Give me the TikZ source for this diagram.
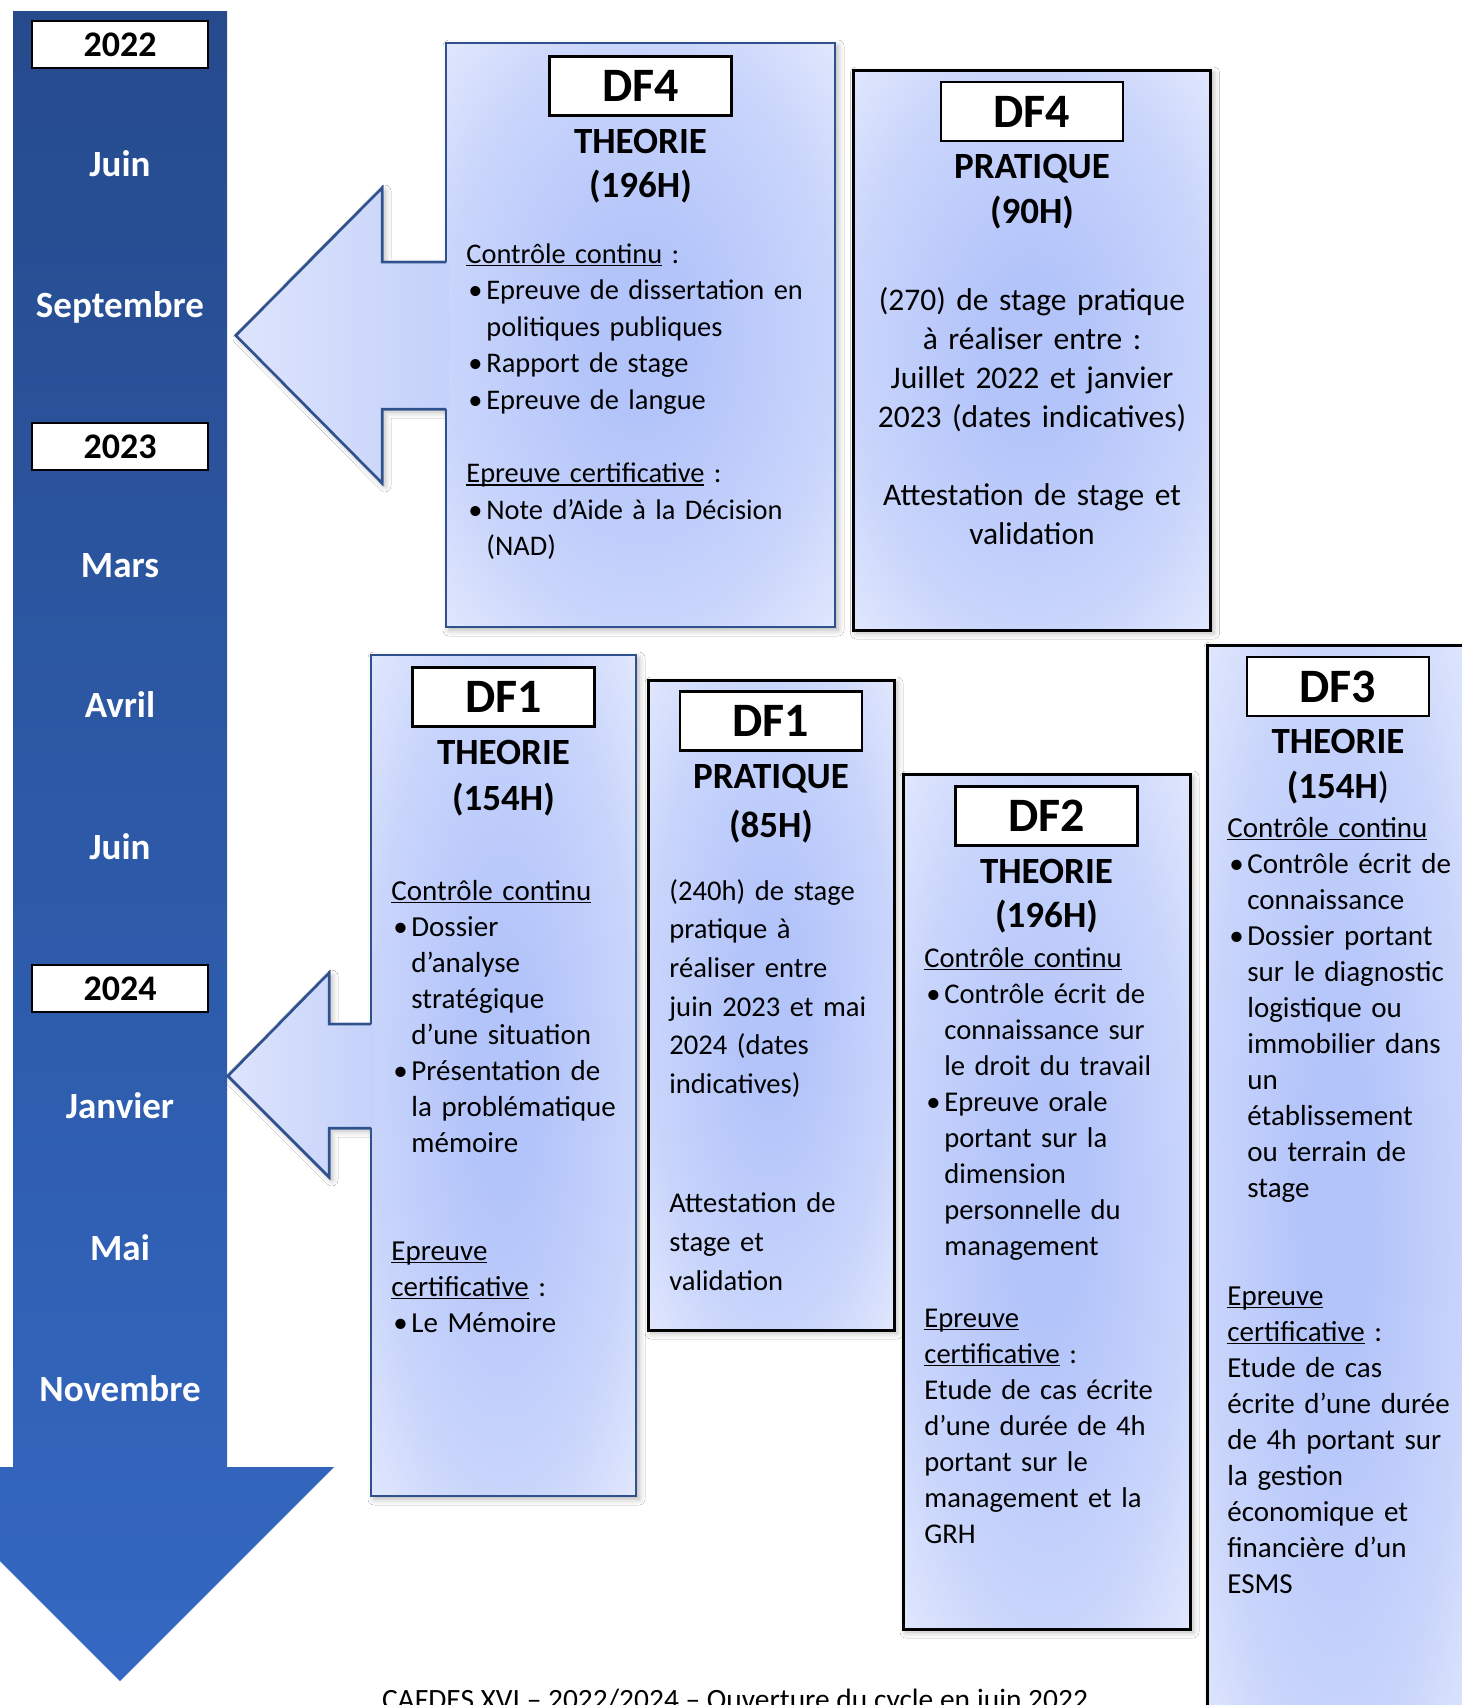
\documentclass[tikz,border=0pt]{standalone}
\usepackage{fontspec}
\setmainfont{Carlito}
\usetikzlibrary{shadows.blur}
\definecolor{bartop}{HTML}{264B8D}
\definecolor{barbot}{HTML}{3468C2}
\definecolor{bxin}{HTML}{B3C4FA}
\definecolor{bxmid}{HTML}{C9D5FB}
\definecolor{bxout}{HTML}{E2E8FD}
\definecolor{arrL}{HTML}{DDE4FC}
\definecolor{arrR}{HTML}{C4D1FA}
\definecolor{dkblue}{HTML}{2F528F}
\pgfdeclareradialshading{boxshade}{\pgfpoint{0bp}{0bp}}{color(0bp)=(bxin); color(7bp)=(bxin); color(25bp)=(bxmid); color(36bp)=(bxout); color(50bp)=(bxout)}
\newcommand{\ulx}[1]{\leavevmode\setbox0=\hbox{#1}\rlap{\rule[-0.12em]{\wd0}{0.06em}}\box0\relax}
\newcommand{\blt}{\makebox[10pt][l]{\hspace{1pt}\textbullet}}
\newcommand{\ind}{\hspace*{10pt}}
\begin{document}
\begin{tikzpicture}[x=0.5pt,y=-0.5pt,
  shad/.style={blur shadow={shadow xshift=1.5pt, shadow yshift=-1.5pt, shadow blur radius=3pt, shadow opacity=30}},
  dfbox/.style={rectangle, inner sep=0pt, shade, shading=boxshade},
  bluebox/.style={dfbox, draw=dkblue, line width=1.25pt},
  blackbox/.style={dfbox, draw=black, line width=1.5pt},
  lbl/.style={rectangle, draw=black, fill=white, line width=1.2pt, minimum width=91pt, minimum height=29.5pt, inner sep=0pt, font=\fontsize{24}{28}\selectfont\bfseries},
  hdr/.style={anchor=base, inner sep=0pt, font=\fontsize{18.5}{22}\selectfont\bfseries},
  month/.style={anchor=base, text=white, inner sep=0pt, font=\fontsize{18.5}{22}\selectfont\bfseries},
  yearbox/.style={rectangle, draw=black, fill=white, line width=1.2pt, minimum width=88pt, minimum height=23.5pt, inner sep=0pt, font=\fontsize{18}{21}\selectfont\bfseries},
  body/.style={anchor=base west, inner sep=0pt, align=left, font=\fontsize{14.5}{18}\selectfont},
  arrowfill/.style={left color=arrL, right color=arrR},
  arrowline/.style={draw=dkblue, line width=1.25pt, line join=miter}
]
\useasboundingbox (0,0) rectangle (1462,1705);
\clip (0,0) rectangle (1462,1705);
\fill[white] (0,0) rectangle (1462,1705);

% timeline bar
\shade[top color=bartop, bottom color=barbot] (13,11) -- (227,11) -- (227,1467) -- (334,1467) -- (120,1681) -- (-94,1467) -- (13,1467) -- cycle;

\node[yearbox] (y22) at (120,44.5) {\raisebox{-1pt}{2022}};
\node[yearbox] (y23) at (120,446.5) {\raisebox{-1pt}{2023}};
\node[yearbox] (y24) at (120,988.5) {\raisebox{-1pt}{2024}};
\node[month] (m1) at (120,176) {Juin};
\node[month] (m2) at (120,317) {Septembre};
\node[month] (m3) at (120,577) {Mars};
\node[month] (m4) at (120,717) {Avril};
\node[month] (m5) at (120,859) {Juin};
\node[month] (m6) at (120,1118) {Janvier};
\node[month] (m7) at (120,1260) {Mai};
\node[month] (m8) at (120,1401) {Novembre};

% arrows (shadow layer)
\path[arrowfill, arrowline, shad] (447,262) -- (382,262) -- (382,188) -- (236,335.5) -- (382,483) -- (382,409) -- (447,409) -- cycle;
\path[arrowfill, arrowline, shad] (372,1024) -- (329,1024) -- (329,973) -- (228,1076) -- (329,1177) -- (329,1128) -- (372,1128) -- cycle;

% boxes
\node[bluebox, shad, minimum width=194.5pt, minimum height=292pt] (b1) at (640.5,335) {};
\node[blackbox, shad, minimum width=178.5pt, minimum height=280pt] (b2) at (1032,350) {};
\node[bluebox, shad, minimum width=132.5pt, minimum height=420.5pt] (b3) at (503.5,1075.5) {};
\node[blackbox, shad, minimum width=123pt, minimum height=325pt] (b4) at (771,1005) {};
\node[blackbox, shad, minimum width=143.5pt, minimum height=427.5pt] (b5) at (1046.5,1201.5) {};
\node[blackbox, shad, minimum width=131pt, minimum height=557.5pt] (b6) at (1338,1202.5) {};

% arrows merged into boxes
\path[arrowfill] (449,262) -- (382,262) -- (382,188) -- (236,335.5) -- (382,483) -- (382,409) -- (449,409) -- cycle;
\draw[arrowline] (446,262) -- (382,262) -- (382,188) -- (236,335.5) -- (382,483) -- (382,409) -- (446,409);
\path[arrowfill] (374,1024) -- (329,1024) -- (329,973) -- (228,1076) -- (329,1177) -- (329,1128) -- (374,1128) -- cycle;
\draw[arrowline] (371,1024) -- (329,1024) -- (329,973) -- (228,1076) -- (329,1177) -- (329,1128) -- (371,1128);

% labels
\node[lbl] (l1) at (640.5,86) {\raisebox{-1pt}{DF4}};
\node[lbl] (l2) at (1032,111.5) {\raisebox{-1pt}{DF4}};
\node[lbl] (l3) at (503.5,697) {\raisebox{-1pt}{DF1}};
\node[lbl] (l4) at (771,721) {\raisebox{-1pt}{DF1}};
\node[lbl] (l5) at (1046.5,816) {\raisebox{-1pt}{DF2}};
\node[lbl] (l6) at (1338,686.5) {\raisebox{-1pt}{DF3}};

% headers
\node[hdr] (h1a) at (640.5,153) {THEORIE};
\node[hdr] (h1b) at (640.5,197) {(196H)};
\node[hdr] (h2a) at (1032,178) {PRATIQUE};
\node[hdr] (h2b) at (1032,223) {(90H)};
\node[hdr] (h3a) at (503.5,764) {THEORIE};
\node[hdr] (h3b) at (503.5,810) {(154H)};
\node[hdr] (h4a) at (771,788) {PRATIQUE};
\node[hdr] (h4b) at (771,837) {(85H)};
\node[hdr] (h5a) at (1046.5,883) {THEORIE};
\node[hdr] (h5b) at (1046.5,927) {(196H)};
\node[hdr] (h6a) at (1338,753) {THEORIE};
\node[hdr] (h6b) at (1338,798) {(154H{\mdseries)}};

% bodies
\node[body, text width=180pt, font=\fontsize{14.2}{18.3}\selectfont] (t1) at (466,263) {%
\ulx{Contrôle continu} :\\
\blt Epreuve de dissertation en\\
\ind politiques publiques\\
\blt Rapport de stage\\
\blt Epreuve de langue\\[18.3pt]
\ulx{Epreuve certificative} :\\
\blt Note d’Aide à la Décision\\
\ind (NAD)};

\node[anchor=base, inner sep=0pt, align=center, text width=170pt, font=\fontsize{15.75}{19.5}\selectfont] (t2) at (1032,310) {%
(270) de stage pratique\\
à réaliser entre :\\
Juillet 2022 et janvier\\
2023 (dates indicatives)\\[19.5pt]
Attestation de stage et\\
validation};

\node[body, text width=150pt] (t3) at (391,900) {%
\ulx{Contrôle continu}\\
\blt Dossier\\
\ind d’analyse\\
\ind stratégique\\
\ind d’une situation\\
\blt Présentation de\\
\ind la problématique\\
\ind mémoire\\[36pt]
\ulx{Epreuve}\\
\ulx{certificative} :\\
\blt Le Mémoire};

\node[body, text width=130pt, font=\fontsize{14.3}{19.35}\selectfont] (t4) at (669,900) {%
(240h) de stage\\
pratique à\\
réaliser entre\\
juin 2023 et mai\\
2024 (dates\\
indicatives)\\[40.3pt]
Attestation de\\
stage et\\
validation};

\node[body, text width=150pt, font=\fontsize{14.3}{18}\selectfont] (t5) at (924,967) {%
\ulx{Contrôle continu}\\
\blt Contrôle écrit de\\
\ind connaissance sur\\
\ind le droit du travail\\
\blt Epreuve orale\\
\ind portant sur la\\
\ind dimension\\
\ind personnelle du\\
\ind management\\[18pt]
\ulx{Epreuve}\\
\ulx{certificative} :\\
Etude de cas écrite\\
d’une durée de 4h\\
portant sur le\\
management et la\\
GRH};

\node[body, text width=140pt] (t6) at (1227,837) {%
\ulx{Contrôle continu}\\
\blt Contrôle écrit de\\
\ind connaissance\\
\blt Dossier portant\\
\ind sur le diagnostic\\
\ind logistique ou\\
\ind immobilier dans\\
\ind un\\
\ind établissement\\
\ind ou terrain de\\
\ind stage\\[36pt]
\ulx{Epreuve}\\
\ulx{certificative} :\\
Etude de cas\\
écrite d’une durée\\
de 4h portant sur\\
la gestion\\
économique et\\
financière d’un\\
ESMS};

\node[anchor=base, inner sep=0pt, font=\fontsize{14.73}{17}\selectfont] (cap) at (735,1709) {CAFDES XVI – 2022/2024 – Ouverture du cycle en juin 2022};
\end{tikzpicture}
\end{document}
